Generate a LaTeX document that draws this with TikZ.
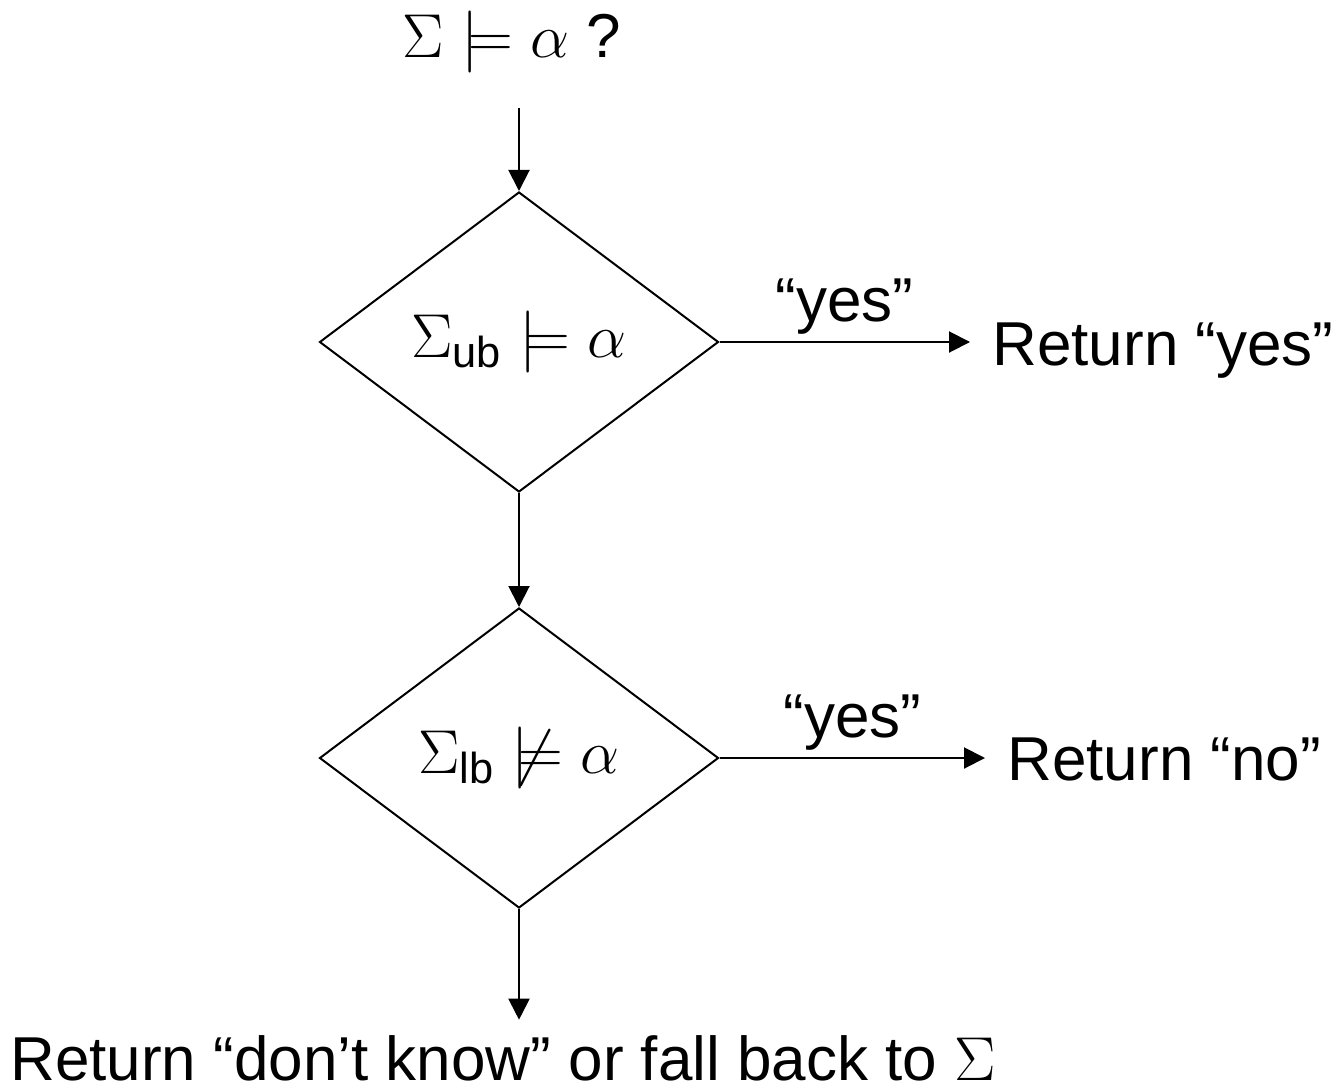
\RequirePackage{fix-cm}
\documentclass[tikz,border=0pt]{standalone}
\usepackage{amsmath}
\usepackage[no-math]{fontspec}
\setmainfont{Liberation Sans}
\usetikzlibrary{shapes.geometric,arrows.meta,calc}
\begin{document}
\begin{tikzpicture}[x=0.5pt,y=-0.5pt,
  every node/.style={font=\fontsize{31}{37}\selectfont},
  decision/.style={diamond,draw,line width=1pt,minimum width=199.5pt,minimum height=150pt,inner sep=0pt},
  arr/.style={line width=1pt,-{Triangle[length=10.5pt,width=10.5pt]}},
  txt/.style={inner sep=0pt}]
\useasboundingbox (0,0) rectangle (1342,1091);
\node[txt,anchor=base] (q) at (512,58) {$\Sigma\models\alpha$ ?};
\node[decision] (d1) at (519,342) {$\Sigma_{\text{ub}}\models\alpha$};
\node[decision] (d2) at (519,758) {$\Sigma_{\text{lb}}\not\models\alpha$};
\node[txt,anchor=base west] (ry) at (992,365) {Return “yes”};
\node[txt,anchor=base west] (rn) at (1007,780) {Return “no”};
\node[txt,anchor=base west] (rd) at (10,1080) {Return “don’t know” or fall back to $\Sigma$};
\draw[arr,shorten <=17pt] (q.south -| d1.north) -- (d1.north);
\draw[arr] (d1.south) -- (d2.north);
\draw[arr,shorten >=7.5pt] (d2.south) -- (rd.north -| d2.south);
\draw[arr] (d1.east) -- node[midway,above,inner sep=3.5pt] {“yes”} ($(d1.east -| ry.west)+(-22,0)$);
\draw[arr] (d2.east) -- node[midway,above,inner sep=3.5pt] {“yes”} ($(d2.east -| rn.west)+(-22,0)$);
\end{tikzpicture}
\end{document}
